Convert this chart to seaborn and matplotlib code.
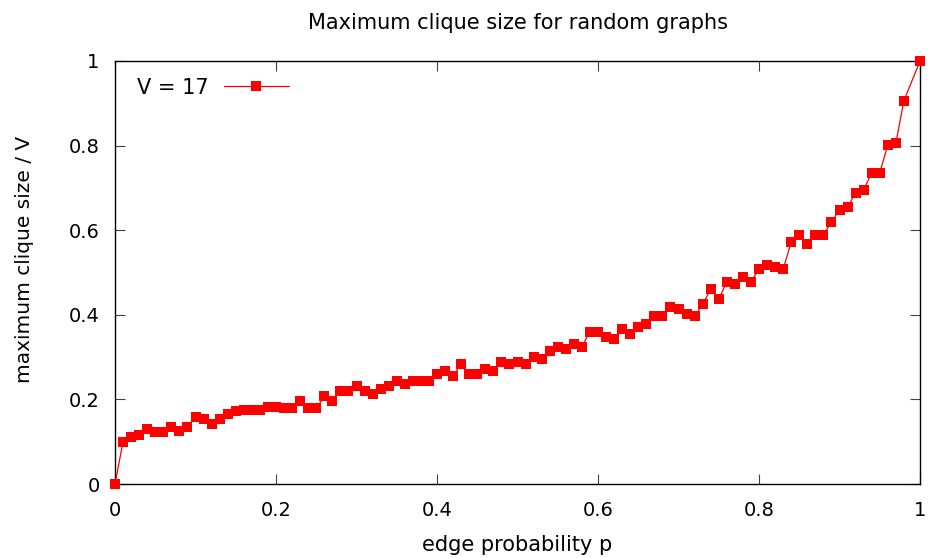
import matplotlib
matplotlib.use("Agg")
import matplotlib.pyplot as plt
import pandas as pd
import seaborn as sns

# Edge probability p and average maximum clique size divided by V (V = 17)
edge_prob = [
    0.00, 0.01, 0.02, 0.03, 0.04, 0.05, 0.06, 0.07, 0.08, 0.09,
    0.10, 0.11, 0.12, 0.13, 0.14, 0.15, 0.16, 0.17, 0.18, 0.19,
    0.20, 0.21, 0.22, 0.23, 0.24, 0.25, 0.26, 0.27, 0.28, 0.29,
    0.30, 0.31, 0.32, 0.33, 0.34, 0.35, 0.36, 0.37, 0.38, 0.39,
    0.40, 0.41, 0.42, 0.43, 0.44, 0.45, 0.46, 0.47, 0.48, 0.49,
    0.50, 0.51, 0.52, 0.53, 0.54, 0.55, 0.56, 0.57, 0.58, 0.59,
    0.60, 0.61, 0.62, 0.63, 0.64, 0.65, 0.66, 0.67, 0.68, 0.69,
    0.70, 0.71, 0.72, 0.73, 0.74, 0.75, 0.76, 0.77, 0.78, 0.79,
    0.80, 0.81, 0.82, 0.83, 0.84, 0.85, 0.86, 0.87, 0.88, 0.89,
    0.90, 0.91, 0.92, 0.93, 0.94, 0.95, 0.96, 0.97, 0.98, 1.00,
]
clique_ratio = [
    0.000, 0.100, 0.111, 0.117, 0.129, 0.123, 0.123, 0.135, 0.125, 0.135,
    0.159, 0.153, 0.142, 0.153, 0.165, 0.172, 0.176, 0.176, 0.176, 0.183,
    0.183, 0.179, 0.179, 0.197, 0.179, 0.179, 0.207, 0.197, 0.219, 0.219,
    0.232, 0.219, 0.213, 0.225, 0.232, 0.244, 0.236, 0.243, 0.243, 0.243,
    0.261, 0.267, 0.255, 0.284, 0.260, 0.260, 0.272, 0.267, 0.289, 0.284,
    0.289, 0.284, 0.301, 0.296, 0.314, 0.325, 0.319, 0.331, 0.325, 0.360,
    0.360, 0.348, 0.343, 0.366, 0.355, 0.372, 0.378, 0.396, 0.396, 0.418,
    0.414, 0.401, 0.396, 0.425, 0.460, 0.437, 0.478, 0.472, 0.489, 0.478,
    0.508, 0.518, 0.513, 0.508, 0.572, 0.589, 0.567, 0.589, 0.589, 0.619,
    0.648, 0.654, 0.689, 0.695, 0.736, 0.736, 0.801, 0.806, 0.906, 1.000,
]
series_label = "V = 17"
tick_values = [0, 0.2, 0.4, 0.6, 0.8, 1]
tick_labels = ["0", "0.2", "0.4", "0.6", "0.8", "1"]

sns.set_style("ticks")
plt.rcParams["font.family"] = ["DejaVu Sans"]
plt.rcParams["text.color"] = "black"
plt.rcParams["axes.labelcolor"] = "black"

df = pd.DataFrame({"p": edge_prob, "ratio": clique_ratio})

fig = plt.figure(figsize=(9.31, 5.58), dpi=100)
ax = fig.add_axes([115 / 931, 1 - 484 / 558, (920 - 115) / 931, (484 - 61) / 558])

sns.lineplot(
    data=df, x="p", y="ratio", ax=ax, color="#ff0000", linewidth=0.9,
    marker="s", markersize=6.8, markeredgewidth=0, label=series_label,
    clip_on=False, zorder=3,
)

ax.set_xlim(0, 1)
ax.set_ylim(0, 1)
ax.set_xticks(tick_values)
ax.set_xticklabels(tick_labels)
ax.set_yticks(tick_values)
ax.set_yticklabels(tick_labels)

for side in ["top", "right", "bottom", "left"]:
    ax.spines[side].set_visible(True)
    ax.spines[side].set_color("black")
    ax.spines[side].set_linewidth(1.0)

ax.tick_params(axis="both", which="major", direction="in", length=7,
               width=0.8, color="#404040", top=True, right=True,
               labelsize=14, labelcolor="black")
ax.tick_params(axis="x", pad=12)
ax.tick_params(axis="y", pad=11)

ax.set_title("Maximum clique size for random graphs", fontsize=15, pad=23,
             color="black")
ax.set_xlabel("edge probability p", fontsize=15, labelpad=11)
ax.set_ylabel("maximum clique size / V", fontsize=14.5)
ax.yaxis.set_label_coords(-0.10, 0.53)

ax.legend(loc="upper left", frameon=False, markerfirst=False,
          handlelength=3.1, handletextpad=0.72, fontsize=15,
          borderaxespad=0.4, bbox_to_anchor=(0.007, 1.0))

fig.savefig("out.png", dpi=100)
